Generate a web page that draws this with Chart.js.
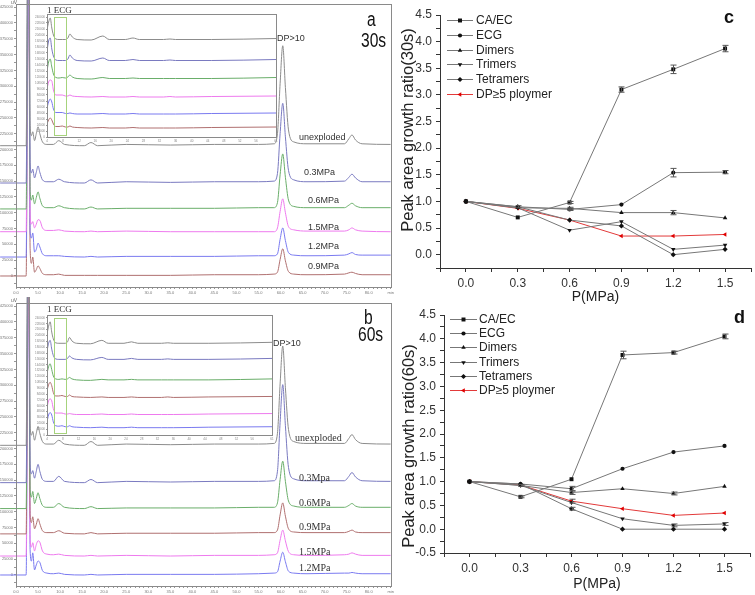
<!DOCTYPE html>
<html>
<head>
<meta charset="utf-8">
<script src="https://cdn.jsdelivr.net/npm/chart.js@4.4.1/dist/chart.umd.min.js"></script>
<style>
  body { margin: 0; background: #fff; }
  #fig { position: relative; width: 755px; height: 595px; overflow: hidden; background: #fff;
         font-family: "Liberation Sans", Arial, sans-serif; }
  #fig canvas { position: absolute; }
  .t { position: absolute; white-space: nowrap; line-height: 1; color: #222; }
  .s { font-size: 9px; color: #333; }
  .r { font-family: "Liberation Serif", "Times New Roman", serif; font-size: 10px; color: #333; }
  .big { font-size: 20px; color: #111; transform: scaleX(0.78); transform-origin: left top; }
  .tiny { font-size: 5px; color: #666; }
</style>
</head>
<body>
<div id="fig">
  <canvas id="chromA" width="395" height="297" style="left:0;top:0"></canvas>
  <canvas id="insetA" width="246" height="137" style="left:34px;top:6px"></canvas>
  <canvas id="chromB" width="395" height="298" style="left:0;top:297px"></canvas>
  <canvas id="insetB" width="242" height="134" style="left:34px;top:307px"></canvas>
  <canvas id="ratio30" width="370" height="308" style="left:385px;top:0"></canvas>
  <canvas id="ratio60" width="370" height="295" style="left:385px;top:300px"></canvas>

  <!-- panel a -->
  <div class="t tiny" style="left:11px;top:0">uV</div>
  <div class="t r" style="left:47px;top:6px;font-size:9px">1 ECG</div>
  <div class="t s" style="left:277px;top:34px">DP&gt;10</div>
  <div class="t big" style="left:367px;top:9px">a</div>
  <div class="t big" style="left:361px;top:30px">30s</div>
  <div class="t s" style="left:299px;top:133px">unexploded</div>
  <div class="t s" style="left:304px;top:168px">0.3MPa</div>
  <div class="t s" style="left:308px;top:196px">0.6MPa</div>
  <div class="t s" style="left:308px;top:223px">1.5MPa</div>
  <div class="t s" style="left:308px;top:242px">1.2MPa</div>
  <div class="t s" style="left:308px;top:262px">0.9MPa</div>

  <!-- panel b -->
  <div class="t tiny" style="left:11px;top:298px">uV</div>
  <div class="t r" style="left:47px;top:305px;font-size:9px">1 ECG</div>
  <div class="t s" style="left:273px;top:339px">DP&gt;10</div>
  <div class="t big" style="left:364px;top:307px">b</div>
  <div class="t big" style="left:358px;top:324px">60s</div>
  <div class="t r" style="left:295px;top:433px">unexploded</div>
  <div class="t r" style="left:299px;top:473px">0.3Mpa</div>
  <div class="t r" style="left:299px;top:498px">0.6MPa</div>
  <div class="t r" style="left:299px;top:522px">0.9MPa</div>
  <div class="t r" style="left:299px;top:547px">1.5MPa</div>
  <div class="t r" style="left:299px;top:563px">1.2MPa</div>

  <!-- panels c, d -->
  <div class="t" style="left:724px;top:8px;font-size:18px;font-weight:bold;color:#111">c</div>
  <div class="t" style="left:734px;top:308px;font-size:18px;font-weight:bold;color:#111">d</div>
</div>

<script>
// ---------- chromatograms (values in thousands of uV) ----------
const chromTimes = [-3.6, 2.3, 2.6, 2.9, 3.2, 3.5, 3.8, 4.2, 4.6, 5.0, 5.4, 6.0, 7.0, 8.5, 9.7, 11, 15.5, 17, 18.5,
  25, 35, 45, 55, 58.5, 59.3, 59.9, 60.5, 61.1, 61.8, 63, 66, 74.5, 75.5, 76.2, 77, 78.5, 85];

// 30 s: unexploded, 0.3, 0.6, 1.5, 1.2, 0.9 MPa (stacked offsets, then signal above baseline)
const offsetsA = [206, 147, 106, 70, 30, 0];
const unexplodedA = [0,0,316,474,32,16,22,8,19,30,19,6,2,2,8,2,0,5,0,2,1,2,2,3,19,98,158,92,25,6,3,3,11,17,9,3,2];
const mpa03A = [0,0,300,474,30,16,22,8,17,27,17,5,2,2,6,2,0,5,0,2,1,2,2,3,15,78,126,73,20,5,2,3,9,14,8,2,2];
const mpa06A = [0,0,300,474,28,14,22,8,18,27,17,5,2,2,5,2,0,3,0,1,1,1,2,2,10,54,87,50,14,4,2,2,6,9,5,2,2];
const mpa15A = [0,0,300,474,26,12,16,6,12,19,18,6,2,2,3,1,0,1,0,1,0,0,0,0,6,32,52,30,8,3,1,1,3,6,3,1,0];
const mpa12A = [0,0,300,474,40,30,38,8,12,22,16,5,2,2,2,1,0,1,0,1,1,1,2,2,5,28,46,26,7,3,2,3,5,7,4,3,3];
const mpa09A = [0,0,300,474,44,20,30,6,10,16,12,4,2,2,3,1,1,1,1,1,1,2,2,3,6,26,43,24,7,3,2,3,5,6,4,2,2];

// 60 s: unexploded, 0.3, 0.6, 0.9, 1.5, 1.2 MPa
const offsetsB = [205, 146, 105, 65, 30, 0];
const unexplodedB = [0,0,316,474,32,16,22,8,19,30,19,6,2,2,8,2,0,6,0,2,1,2,2,3,19,97,157,91,25,6,3,3,11,17,9,3,2];
const mpa03B = [0,0,300,474,28,14,19,7,18,29,18,5,2,2,10,2,0,5,0,2,1,2,2,3,18,95,155,90,24,6,3,3,10,16,9,3,2];
const mpa06B = [0,0,300,474,30,18,27,8,16,25,16,5,2,2,8,2,0,3,0,1,1,1,2,2,9,46,75,43,12,4,2,2,5,8,4,2,2];
const mpa09B = [0,0,300,474,30,18,27,8,15,24,16,5,2,2,5,1,0,2,0,1,1,1,2,2,6,30,49,28,8,3,2,2,4,6,3,2,2];
const mpa15B = [0,0,300,474,26,14,21,8,18,24,22,8,3,2,3,1,0,1,0,1,0,1,1,2,5,25,41,24,7,2,1,2,3,5,3,1,1];
const mpa12B = [0,0,300,474,40,22,35,8,16,22,20,7,3,2,3,1,0,1,0,1,1,1,2,3,5,22,36,21,6,3,2,3,3,4,3,2,2];

// insets (early part of the run, own scale)
const insetTimes = [4.0, 4.4, 4.8, 5.2, 5.6, 6.2, 7.0, 7.8, 8.6, 9.2, 9.7, 10.3, 11.5, 15, 17.9, 19.5, 23.5, 25.4, 27, 33, 34.6, 36, 45, 61];
const insetOffsetsA = [194, 152, 116, 80, 46, 18];
const insetA = [
  [20,36,44,24,10,2,1,1,1,4,12,6,1,0,8,1,1,4,1,1,2,1,1,3],
  [20,40,46,24,10,2,1,1,1,4,12,6,1,0,6,1,1,3,1,1,2,1,1,3],
  [16,34,40,24,10,3,2,3,2,4,8,4,1,0,3,1,1,2,1,1,1,1,1,3],
  [16,30,34,32,14,4,4,4,2,2,4,2,1,0,1,0,0,1,0,0,1,0,1,2],
  [12,24,30,24,10,3,3,3,1,1,2,1,0,0,1,0,0,1,0,0,0,0,1,2],
  [8,16,20,16,8,3,3,4,2,2,4,2,1,0,1,0,0,1,0,0,0,0,1,2]
];
const insetOffsetsB = [187, 154, 112, 77, 42, 15];
const insetB = [
  [20,36,45,24,10,2,1,1,1,4,13,6,1,0,7,1,1,4,1,1,2,1,1,3],
  [18,34,40,22,9,2,1,1,1,3,8,4,1,0,5,1,1,3,1,1,2,1,1,3],
  [14,28,34,22,9,3,2,3,2,3,6,3,1,0,2,1,1,2,1,1,1,1,1,3],
  [14,26,31,24,10,3,3,4,2,2,5,2,1,0,1,0,0,1,0,0,1,0,1,2],
  [14,28,32,28,12,3,3,3,1,1,2,1,0,0,1,0,0,1,0,0,0,0,1,2],
  [12,26,31,26,12,4,3,4,2,2,4,2,1,0,1,0,0,1,0,0,0,0,1,2]
];
const ecgWindow = [5.8, 8.7];

// ---------- peak area growth ratios ----------
const pressures = [0, 0.3, 0.6, 0.9, 1.2, 1.5];
const seriesNames = ['CA/EC', 'ECG', 'Dimers', 'Trimers', 'Tetramers', 'DP≥5 ploymer'];

const caec30 = [1, 0.70, 0.98, 3.10, 3.48, 3.87];
const ecg30 = [1, 0.90, 0.85, 0.94, 1.54, 1.55];
const dimers30 = [1, 0.88, 0.87, 0.79, 0.79, 0.69];
const trimers30 = [1, 0.88, 0.46, 0.62, 0.10, 0.18];
const tetramers30 = [1, 0.90, 0.65, 0.54, 0.00, 0.10];
const dp5plus30 = [1, 0.87, 0.65, 0.35, 0.35, 0.38];
const caec30Err = [0, 0, 0.02, 0.05, 0.08, 0.06];
const ecg30Err = [0, 0.02, 0.02, 0, 0.08, 0.03];
const dimers30Err = [0, 0, 0.02, 0, 0.04, 0];

const caec60 = [1, 0.68, 1.05, 3.66, 3.71, 4.05];
const ecg60 = [1, 0.95, 0.85, 1.27, 1.62, 1.75];
const dimers60 = [1, 0.92, 0.77, 0.85, 0.75, 0.90];
const trimers60 = [1, 0.92, 0.56, 0.22, 0.08, 0.11];
const tetramers60 = [1, 0.95, 0.43, 0.00, 0.00, 0.00];
const dp5plus60 = [1, 0.93, 0.59, 0.43, 0.29, 0.34];
const caec60Err = [0, 0.02, 0, 0.08, 0.03, 0.05];
const ecg60Err = [0, 0, 0.05, 0, 0, 0];
const dimers60Err = [0, 0.02, 0.04, 0, 0.03, 0];
const trimers60Err = [0, 0, 0, 0, 0.03, 0.03];
const tetramers60Err = [0, 0, 0.03, 0, 0, 0];
const dp5plus60Err = [0, 0, 0.04, 0, 0, 0];

// ---------- plugins ----------
const frameBox = {
  id: 'frameBox',
  afterDraw(chart) {
    const { ctx, chartArea: a } = chart;
    ctx.save();
    ctx.strokeStyle = '#8a8a8a';
    ctx.lineWidth = 1;
    ctx.strokeRect(Math.round(a.left) + 0.5, Math.round(a.top) + 0.5, Math.round(a.right - a.left), Math.round(a.bottom - a.top));
    ctx.restore();
  }
};

const insetDecor = {
  id: 'insetDecor',
  beforeDraw(chart) {
    const { ctx, chartArea: a } = chart;
    ctx.save();
    ctx.fillStyle = '#fff';
    ctx.fillRect(a.left, a.top, a.right - a.left, a.bottom - a.top);
    ctx.restore();
  },
  afterDatasetsDraw(chart, args, opts) {
    const { ctx, scales: { x, y } } = chart;
    const x0 = Math.round(x.getPixelForValue(opts.from)) + 0.5;
    const x1 = Math.round(x.getPixelForValue(opts.to)) + 0.5;
    const y0 = Math.round(y.getPixelForValue(opts.top)) + 0.5;
    const y1 = Math.round(y.getPixelForValue(opts.bottom)) + 0.5;
    ctx.save();
    ctx.strokeStyle = '#a6d37c';
    ctx.lineWidth = 1;
    ctx.strokeRect(x0, y0, x1 - x0, y1 - y0);
    ctx.restore();
  }
};

const errorBars = {
  id: 'errorBars',
  afterDatasetsDraw(chart) {
    const { ctx, scales: { x, y } } = chart;
    ctx.save();
    ctx.strokeStyle = '#555';
    ctx.lineWidth = 1;
    chart.data.datasets.forEach(ds => {
      (ds.errors || []).forEach((e, i) => {
        if (!e) return;
        const p = ds.data[i];
        const px = Math.round(x.getPixelForValue(p.x)) + 0.5;
        const top = y.getPixelForValue(p.y + e);
        const bot = y.getPixelForValue(p.y - e);
        ctx.beginPath();
        ctx.moveTo(px, top); ctx.lineTo(px, bot);
        ctx.moveTo(px - 3, top); ctx.lineTo(px + 3, top);
        ctx.moveTo(px - 3, bot); ctx.lineTo(px + 3, bot);
        ctx.stroke();
      });
    });
    ctx.restore();
  }
};

function drawMarker(ctx, style, rotation, x, y, r, color) {
  ctx.fillStyle = color;
  if (Chart.helpers && Chart.helpers.drawPoint) {
    Chart.helpers.drawPoint(ctx, { pointStyle: style, rotation: rotation, radius: r, borderWidth: 0 }, x, y);
    return;
  }
  ctx.beginPath();
  ctx.arc(x, y, r, 0, Math.PI * 2);
  ctx.fill();
}

const innerLegend = {
  id: 'innerLegend',
  afterDraw(chart, args, opts) {
    const ctx = chart.ctx;
    ctx.save();
    ctx.font = '12px "Liberation Sans", Arial, sans-serif';
    ctx.textBaseline = 'middle';
    chart.data.datasets.forEach((ds, i) => {
      const yy = Math.round(opts.y0 + i * opts.dy);
      ctx.strokeStyle = ds.borderColor;
      ctx.lineWidth = 1;
      ctx.beginPath();
      ctx.moveTo(opts.x0, yy + 0.5);
      ctx.lineTo(opts.x1, yy + 0.5);
      ctx.stroke();
      drawMarker(ctx, ds.pointStyle, ds.pointRotation, (opts.x0 + opts.x1) / 2, yy + 0.5, ds.pointRadius, ds.pointBackgroundColor);
      ctx.fillStyle = '#222';
      ctx.fillText(ds.label, opts.tx, yy + 1);
    });
    ctx.restore();
  }
};

// rotated y title, placed where the original layout has it
const sideTitle = {
  id: 'sideTitle',
  afterDraw(chart, args, opts) {
    const ctx = chart.ctx;
    ctx.save();
    ctx.translate(opts.cx, opts.cy);
    ctx.rotate(-Math.PI / 2);
    ctx.font = '16.5px "Liberation Sans", Arial, sans-serif';
    ctx.fillStyle = '#222';
    ctx.textAlign = 'center';
    ctx.textBaseline = 'middle';
    ctx.fillText(opts.text, 0, 0);
    ctx.restore();
  }
};

// ---------- chart builders ----------
const colorsA = ['#8c8c8c', '#7a7ac0', '#6aae6a', '#ee7aee', '#7a7af0', '#b07070'];
const colorsB = ['#8c8c8c', '#7a7ac0', '#6aae6a', '#b07070', '#ee7aee', '#7a7af0'];

function makeChrom(id, offsets, signals, colors, padTop, xHeight) {
  return new Chart(document.getElementById(id), {
    type: 'line',
    data: {
      datasets: signals.map((s, i) => ({
        data: chromTimes.map((t, k) => ({ x: t, y: offsets[i] + s[k] })),
        borderColor: colors[i],
        borderWidth: 1,
        pointRadius: 0,
        cubicInterpolationMode: 'monotone',
        clip: { left: 16, top: padTop, right: 0, bottom: 0 }
      }))
    },
    options: {
      responsive: false, animation: false, events: [],
      layout: { padding: { top: padTop, right: 2, left: 0, bottom: 0 } },
      plugins: { legend: { display: false }, tooltip: { enabled: false } },
      scales: {
        x: {
          type: 'linear', min: 0, max: 85,
          afterFit: s => { s.height = xHeight; },
          ticks: {
            stepSize: 1, maxTicksLimit: 1000, autoSkip: false, maxRotation: 0, padding: 1,
            font: { size: 4 }, color: '#777',
            callback: v => (v % 5 === 0 ? (v === 85 ? 'min' : v.toFixed(1)) : '')
          },
          grid: { drawOnChartArea: false, tickLength: 2, color: '#999' },
          border: { color: '#8a8a8a' }
        },
        y: {
          min: -17.4, max: 430,
          afterFit: s => { s.width = 16; },
          ticks: {
            stepSize: 12.5, maxTicksLimit: 1000, includeBounds: false, autoSkip: false, padding: 1,
            font: { size: 4 }, color: '#777',
            callback: v => (Math.abs(v % 25) < 1e-6 ? String(Math.round(v * 1000)) : '')
          },
          grid: { drawOnChartArea: false, tickLength: 2, color: '#999' },
          border: { color: '#8a8a8a' }
        }
      }
    },
    plugins: [frameBox]
  });
}

function makeInset(id, offsets, signals, colors) {
  return new Chart(document.getElementById(id), {
    type: 'line',
    data: {
      datasets: signals.map((s, i) => ({
        data: insetTimes.map((t, k) => ({ x: t, y: offsets[i] + s[k] })),
        borderColor: colors[i],
        borderWidth: 1,
        pointRadius: 0,
        cubicInterpolationMode: 'monotone'
      }))
    },
    options: {
      responsive: false, animation: false, events: [],
      layout: { padding: { top: 8, right: 4, left: 0, bottom: 0 } },
      plugins: {
        legend: { display: false }, tooltip: { enabled: false },
        insetDecor: { from: ecgWindow[0], to: ecgWindow[1], top: 240, bottom: 4 }
      },
      scales: {
        x: {
          type: 'linear', min: 4, max: 61,
          afterFit: s => { s.height = 6; },
          ticks: { stepSize: 4, maxTicksLimit: 1000, autoSkip: false, maxRotation: 0, padding: 1, font: { size: 3 }, color: '#888' },
          grid: { drawOnChartArea: false, tickLength: 1, color: '#999' },
          border: { color: '#777' }
        },
        y: {
          min: 0, max: 246,
          afterFit: s => { s.width = 13; },
          ticks: { stepSize: 12, maxTicksLimit: 1000, includeBounds: false, autoSkip: false, padding: 1,
                   font: { size: 3 }, color: '#888', callback: v => String(v * 1000) },
          grid: { drawOnChartArea: false, tickLength: 1, color: '#999' },
          border: { color: '#777' }
        }
      }
    },
    plugins: [insetDecor, frameBox]
  });
}

const markerStyles = [
  { pointStyle: 'rect', rotation: 0, radius: 2.8 },
  { pointStyle: 'circle', rotation: 0, radius: 2.1 },
  { pointStyle: 'triangle', rotation: 0, radius: 2.6 },
  { pointStyle: 'triangle', rotation: 180, radius: 2.6 },
  { pointStyle: 'rectRot', rotation: 0, radius: 2.6 },
  { pointStyle: 'triangle', rotation: 270, radius: 2.6 }
];

function makeRatio(id, series, errors, yMin, yTitle, pad, xHeight, yWidth, legend) {
  return new Chart(document.getElementById(id), {
    type: 'line',
    data: {
      datasets: series.map((vals, i) => {
        const red = i === 5;
        return {
          label: seriesNames[i],
          data: pressures.map((p, k) => ({ x: p, y: vals[k] })),
          errors: errors[i],
          borderColor: red ? '#e23a3a' : '#777',
          borderWidth: 1,
          pointStyle: markerStyles[i].pointStyle,
          pointRotation: markerStyles[i].rotation,
          pointRadius: markerStyles[i].radius,
          pointBackgroundColor: red ? '#e00000' : '#111',
          pointBorderWidth: 0,
          tension: 0
        };
      })
    },
    options: {
      responsive: false, animation: false, events: [],
      layout: { padding: pad },
      plugins: { legend: { display: false }, tooltip: { enabled: false }, innerLegend: legend, sideTitle: yTitle },
      scales: {
        x: {
          type: 'linear', min: -0.15, max: 1.65,
          afterFit: s => { s.height = xHeight; },
          ticks: {
            stepSize: 0.15, maxTicksLimit: 1000, autoSkip: false, maxRotation: 0, padding: 4,
            font: { size: 12, family: '"Liberation Sans", Arial, sans-serif' }, color: '#333',
            callback: v => { const r = Math.round(v * 100); return (r >= 0 && r <= 150 && r % 30 === 0) ? (r / 100).toFixed(1) : ''; }
          },
          grid: { drawOnChartArea: false, tickLength: 4, color: '#333' },
          border: { color: '#333' },
          title: { display: true, text: 'P(MPa)', color: '#222', font: { size: 14, family: '"Liberation Sans", Arial, sans-serif' }, padding: { top: 2, bottom: 2 } }
        },
        y: {
          min: yMin, max: 4.5,
          afterFit: s => { s.width = yWidth; },
          ticks: {
            stepSize: 0.25, maxTicksLimit: 1000, autoSkip: false, padding: 4,
            font: { size: 12, family: '"Liberation Sans", Arial, sans-serif' }, color: '#333',
            callback: v => { const r = Math.round(v * 100); return r % 50 === 0 ? (r / 100).toFixed(1) : ''; }
          },
          grid: { drawOnChartArea: false, tickLength: 4, color: '#333' },
          border: { color: '#333' }
        }
      }
    },
    plugins: [errorBars, innerLegend, sideTitle]
  });
}

makeChrom('chromA', offsetsA, [unexplodedA, mpa03A, mpa06A, mpa15A, mpa12A, mpa09A], colorsA, 4, 10);
makeChrom('chromB', offsetsB, [unexplodedB, mpa03B, mpa06B, mpa09B, mpa15B, mpa12B], colorsB, 6, 9);
makeInset('insetA', insetOffsetsA, insetA, colorsA);
makeInset('insetB', insetOffsetsB, insetB, colorsB);

const zeros = [0, 0, 0, 0, 0, 0];
makeRatio('ratio30',
  [caec30, ecg30, dimers30, trimers30, tetramers30, dp5plus30],
  [caec30Err, ecg30Err, dimers30Err, zeros, zeros, zeros],
  -0.25, { text: 'Peak area growth ratio(30s)', cx: 23, cy: 130 },
  { top: 15, right: 2, left: 10, bottom: 0 }, 40, 45,
  { x0: 62, x1: 88, tx: 91, y0: 20, dy: 14.8 });
makeRatio('ratio60',
  [caec60, ecg60, dimers60, trimers60, tetramers60, dp5plus60],
  [caec60Err, ecg60Err, dimers60Err, trimers60Err, tetramers60Err, dp5plus60Err],
  -0.5, { text: 'Peak area growth ratio(60s)', cx: 24, cy: 146 },
  { top: 15, right: 5, left: 11, bottom: 0 }, 42, 48,
  { x0: 65, x1: 92, tx: 94, y0: 19, dy: 14.2 });
</script>
</body>
</html>
